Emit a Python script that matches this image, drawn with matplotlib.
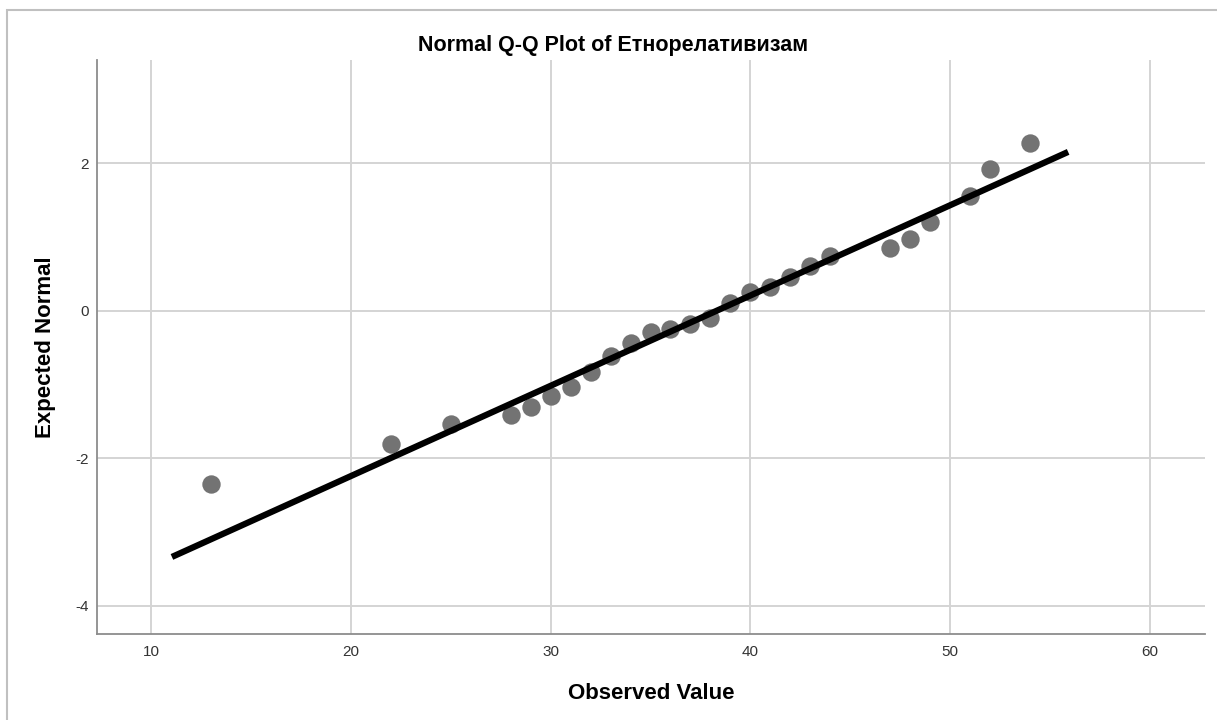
import matplotlib.pyplot as plt
import matplotlib.patches as patches
import numpy as np

plt.rcParams['font.family'] = ['Liberation Sans', 'DejaVu Sans']
plt.rcParams['axes.unicode_minus'] = False

observed = [13, 22, 25, 28, 29, 30, 31, 32, 33, 34, 35, 36, 37, 38, 39,
            40, 41, 42, 43, 44, 47, 48, 49, 51, 52, 54]
expected = [-2.35, -1.81, -1.53, -1.41, -1.31, -1.15, -1.03, -0.83, -0.61,
            -0.43, -0.29, -0.24, -0.18, -0.10, 0.10, 0.26, 0.33, 0.46, 0.61,
            0.74, 0.85, 0.97, 1.20, 1.56, 1.92, 2.28]

# reference line: y = (x - mean) / sd
line_mean = 38.3
line_sd = 8.17
line_x = np.array([11.05, 55.9])
line_y = (line_x - line_mean) / line_sd

x_ticks = [10, 20, 30, 40, 50, 60]
y_ticks = [-4, -2, 0, 2]

fig = plt.figure(figsize=(12.17, 7.2), dpi=100)
# light outer frame, open to the right and bottom
fig.patches.append(patches.Rectangle((6.5 / 1217, -0.1), 1.2, 710 / 720 + 0.1,
                                     transform=fig.transFigure, fill=False,
                                     edgecolor='#c0c0c0', linewidth=1.5))
ax = fig.add_axes([97 / 1217, 86 / 720, (1205 - 97) / 1217, (634 - 60) / 720])

ax.set_xlim(7.3, 62.75)
ax.set_ylim(-4.38, 3.40)
ax.set_xticks(x_ticks)
ax.set_yticks(y_ticks)
ax.grid(True, color='#d4d4d4', linewidth=1.4)
ax.set_axisbelow(True)

for side in ['top', 'right']:
    ax.spines[side].set_visible(False)
for side in ['left', 'bottom']:
    ax.spines[side].set_color('#8c8c8c')
    ax.spines[side].set_linewidth(1.3)

ax.tick_params(length=0, labelsize=11, colors='#333333')
ax.tick_params(axis='x', pad=8)
ax.tick_params(axis='y', pad=6)

ax.scatter(observed, expected, s=175, color='#737373', zorder=3, linewidths=0)
ax.plot(line_x, line_y, color='black', linewidth=4.5, solid_capstyle='butt', zorder=4)

ax.set_xlabel('Observed Value', fontsize=16, fontweight='bold', labelpad=17)
ax.set_ylabel('Expected Normal', fontsize=16, fontweight='bold', labelpad=14)
fig.text(613 / 1217, 1 - 45 / 720, 'Normal Q-Q Plot of Етнорелативизам',
         fontsize=15.5, fontweight='bold', ha='center', va='center')

fig.savefig('out.png', dpi=100)
